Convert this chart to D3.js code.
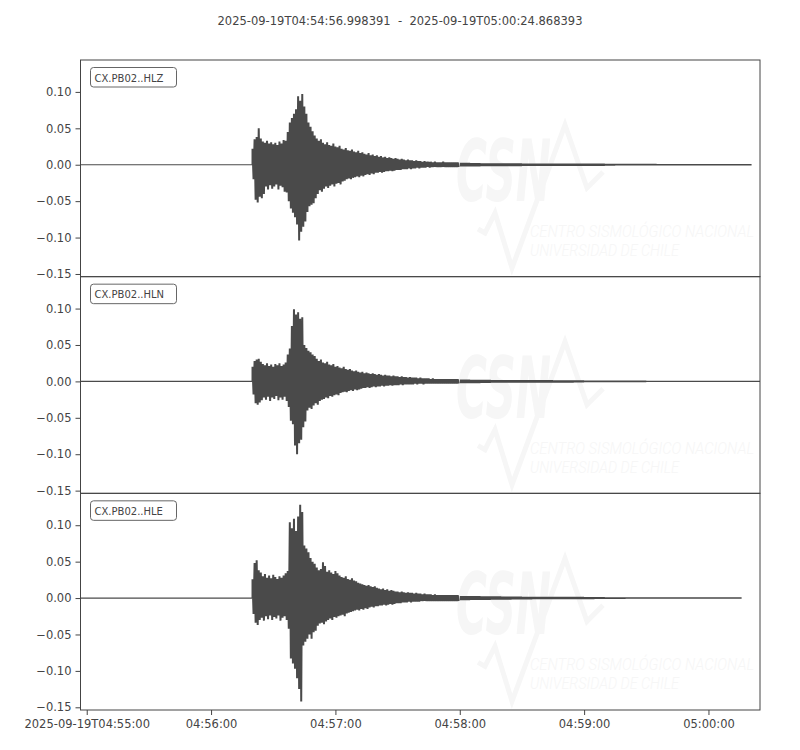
<!DOCTYPE html>
<html>
<head>
<meta charset="utf-8">
<script src="https://d3js.org/d3.v7.min.js"></script>
<style>
    body { margin: 0; background: white; }
    text { font-family: "DejaVu Sans", sans-serif; fill: #444; }
</style>
</head>
<body>
<script>
    // time window of the plot and of the event
    var startTime = new Date("2025-09-19T04:54:56.998Z");
    var endTime = new Date("2025-09-19T05:00:24.868Z");
    var onsetTime = new Date("2025-09-19T04:56:20Z");

    var channels = ["CX.PB02..HLZ", "CX.PB02..HLN", "CX.PB02..HLE"];
    var traceEnds = ["2025-09-19T05:00:20.8Z", "2025-09-19T05:00:24.868Z", "2025-09-19T05:00:16Z"];

    var yTicks = [-0.15, -0.10, -0.05, 0.00, 0.05, 0.10];
    var xTicks = ["2025-09-19T04:55:00Z", "2025-09-19T04:56:00Z", "2025-09-19T04:57:00Z",
                  "2025-09-19T04:58:00Z", "2025-09-19T04:59:00Z", "2025-09-19T05:00:00Z"];

    // envelope, 1 s bins from onset, in units of 0.001
    var hlzMax = [22,35,38,50,36,32,30,33,29,31, 28,30,27,32,29,34,33,45,58,64,
                  70,76,94,88,97,80,70,58,52,46, 40,36,33,35,30,28,31,27,26,29,
                  25,24,26,22,21,23,20,19,21,18, 17,19,16,17,15,14,16,13,14,12,
                  13,11,12,10,11,9,10,9,8,9, 8,7,8,7,6,7,6,6,5,6,
                  5,5,4,5,4,4,4,3,4,3, 3,3,4,3,3,3,3,3,3,3];
    var hlzMin = [-20,-48,-52,-44,-46,-40,-30,-34,-28,-33, -30,-27,-34,-29,-31,-37,-38,-50,-60,-66,
                  -72,-82,-104,-92,-85,-78,-65,-57,-55,-53, -46,-40,-35,-37,-33,-30,-32,-29,-27,-30,
                  -26,-25,-27,-23,-22,-20,-19,-20,-18,-17, -16,-17,-15,-16,-14,-13,-14,-12,-13,-11,
                  -11,-10,-11,-10,-9,-9,-8,-9,-8,-7, -7,-7,-6,-6,-6,-5,-6,-5,-5,-4,
                  -5,-4,-4,-4,-3,-4,-3,-3,-3,-3, -3,-3,-3,-3,-3,-3,-3,-3,-3,-3];

    var hlnMax = [20,28,30,31,27,24,22,25,21,23, 20,24,22,25,21,23,26,37,45,76,
                  99,92,95,86,88,50,46,42,40,37, 35,31,28,30,26,25,27,23,22,24,
                  20,21,19,18,20,17,16,17,15,14, 15,13,12,13,11,12,11,10,11,10,
                  9,10,9,8,9,8,8,7,8,7, 7,6,7,6,6,5,6,5,5,5,
                  4,5,4,4,4,4,3,4,3,3, 3,3,3,3,3,3,3,3,3,3];
    var hlnMin = [-18,-30,-32,-29,-26,-22,-25,-21,-27,-22, -24,-20,-26,-22,-25,-21,-27,-35,-54,-59,
                  -88,-100,-85,-80,-63,-55,-40,-36,-38,-33, -30,-32,-27,-25,-24,-22,-23,-20,-21,-19,
                  -18,-19,-16,-15,-14,-15,-13,-12,-13,-11, -12,-11,-10,-9,-9,-8,-9,-8,-7,-8,
                  -7,-7,-6,-7,-6,-6,-5,-6,-5,-5, -5,-4,-5,-4,-4,-4,-4,-4,-3,-4,
                  -3,-3,-4,-3,-3,-3,-3,-3,-3,-3, -3,-3,-3,-3,-3,-3,-3,-3,-3,-3];

    var hleMax = [26,48,52,38,35,30,33,28,31,27, 32,29,26,30,28,31,34,37,104,96,
                  109,92,112,128,118,72,68,63,55,50, 47,42,38,40,49,44,36,38,35,33,
                  37,34,31,29,28,30,26,25,27,24, 23,21,20,19,18,17,18,16,15,16,
                  14,13,12,13,11,12,10,11,10,9, 9,8,9,8,7,8,7,7,6,7,
                  6,6,5,6,5,5,5,4,5,4, 4,4,4,4,4,4,4,4,4,4];
    var hleMin = [-22,-34,-37,-30,-27,-31,-25,-29,-24,-30, -26,-28,-24,-31,-27,-25,-30,-42,-83,-90,
                  -97,-110,-125,-142,-65,-60,-56,-50,-56,-47, -45,-38,-35,-34,-36,-32,-30,-28,-30,-26,
                  -27,-25,-24,-23,-25,-21,-20,-19,-18,-17, -16,-17,-15,-16,-14,-15,-13,-12,-13,-11,
                  -11,-10,-10,-9,-10,-9,-8,-9,-8,-7, -7,-7,-6,-6,-6,-5,-6,-5,-5,-5,
                  -5,-4,-4,-4,-4,-4,-4,-4,-4,-4, -4,-4,-4,-4,-4,-4,-4,-4,-4,-4];

    // coda amplitude, 5 s bins starting 100 s after onset, units of 0.001
    var hlzTail = [2.6,2.4,2.2,2.2,2.0,2.0, 1.8,1.8,1.8,1.8,1.7,1.7, 1.6,1.6,1.5,
                   1.2,1.2,1.2,1.2,1.1, 1.1,1.1,1.1,1.0,1.0,1.0,1.0,1.0];
    var hlnTail = [2.6,2.4,2.2,2.0,2.0,1.9, 1.8,1.8,1.8,1.7,1.7,1.6, 1.3,1.2,1.2,
                   1.1,1.1,1.1,1.0,1.0, 1.0,1.0,1.0,1.0,1.0,1.0,1.0,1.0,1.0];
    var hleTail = [3.0,2.8,2.5,2.4,2.2,2.0, 1.9,1.8,1.8,1.8,1.7,1.7, 1.5,1.3,1.2,
                   1.2,1.1,1.1,1.1,1.0, 1.0,1.0,1.0,1.0,1.0,1.0,1.0,1.0];

    var maxes = [hlzMax, hlnMax, hleMax];
    var mins = [hlzMin, hlnMin, hleMin];
    var tails = [hlzTail, hlnTail, hleTail];

    var width = 800, height = 750;
    var left = 80.5, right = 760, top0 = 60, bottom = 710;
    var panelH = (bottom - top0) / 3;
    var ink = "#4a4a4a";
    var ghost = "#f6f6f6";

    var svg = d3.select("body").append("svg")
        .attr("width", width)
        .attr("height", height);

    var x = d3.scaleTime()
        .domain([startTime, endTime])
        .range([left, right]);

    function secAfter(d, s) { return new Date(d.getTime() + s * 1000); }

    // title
    svg.append("text")
        .attr("x", 400)
        .attr("y", 25)
        .attr("text-anchor", "middle")
        .style("font-size", "11.5px")
        .style("white-space", "pre")
        .text("2025-09-19T04:54:56.998391  -  2025-09-19T05:00:24.868393");

    channels.forEach(function(name, k) {
        var pTop = top0 + k * panelH, pBot = pTop + panelH;
        var y = d3.scaleLinear()
            .domain([-0.1537, 0.1438])
            .range([pBot, pTop]);

        var g = svg.append("g");
        svg.append("clipPath").attr("id", "clip" + k)
            .append("rect")
            .attr("x", left).attr("y", pTop)
            .attr("width", right - left).attr("height", panelH);

        var inner = g.append("g").attr("clip-path", "url(#clip" + k + ")");

        // faint CSN watermark
        var wm = inner.append("g").attr("transform", "translate(0," + (pTop - 60) + ")");
        wm.append("path")
            .attr("d", "M478,229 L485,233 L495,213 L512,268 L565,125 L587,188 L603,172")
            .attr("fill", "none")
            .attr("stroke", ghost)
            .attr("stroke-width", 5);
        wm.append("text")
            .attr("x", 456).attr("y", 201)
            .attr("textLength", 95).attr("lengthAdjust", "spacingAndGlyphs")
            .style("font-size", "86px").style("font-weight", "bold").style("font-style", "italic")
            .style("fill", ghost)
            .text("CSN");
        wm.append("text")
            .attr("x", 530).attr("y", 237)
            .attr("textLength", 224).attr("lengthAdjust", "spacingAndGlyphs")
            .style("font-family", "Roboto").style("font-size", "16px").style("font-style", "italic")
            .style("font-weight", 300)
            .style("fill", ghost)
            .text("CENTRO SISMOLÓGICO NACIONAL");
        wm.append("text")
            .attr("x", 530).attr("y", 256)
            .attr("textLength", 149).attr("lengthAdjust", "spacingAndGlyphs")
            .style("font-family", "Roboto").style("font-size", "16px").style("font-style", "italic")
            .style("font-weight", 300)
            .style("fill", ghost)
            .text("UNIVERSIDAD DE CHILE");

        // pre-event flat line
        inner.append("line")
            .attr("x1", x(startTime)).attr("x2", x(onsetTime))
            .attr("y1", y(0)).attr("y2", y(0))
            .attr("stroke", ink).attr("stroke-width", 1.2);

        // zigzag through the 1 s envelope
        var pts = [{t: onsetTime, v: 0}];
        maxes[k].forEach(function(v, i) {
            pts.push({t: secAfter(onsetTime, i), v: v / 1000});
            pts.push({t: secAfter(onsetTime, i + 0.5), v: mins[k][i] / 1000});
        });
        inner.append("path")
            .datum(pts)
            .attr("d", d3.line().x(function(d) { return x(d.t); }).y(function(d) { return y(d.v); }))
            .attr("fill", "none")
            .attr("stroke", ink)
            .attr("stroke-width", 2)
            .attr("stroke-linejoin", "bevel");

        // coda band
        var tEnd = new Date(traceEnds[k]);
        var tail = tails[k].map(function(a, i) {
            return {t: secAfter(onsetTime, 100 + i * 5), a: a / 1000};
        });
        tail.push({t: tEnd, a: tails[k][tails[k].length - 1] / 1000});
        inner.append("path")
            .datum(tail)
            .attr("d", d3.area().curve(d3.curveStepAfter)
                .x(function(d) { return x(d.t); })
                .y0(function(d) { return y(-d.a); })
                .y1(function(d) { return y(d.a); }))
            .attr("fill", ink);

        // frame
        g.append("rect")
            .attr("x", left).attr("y", pTop)
            .attr("width", right - left).attr("height", panelH)
            .attr("fill", "none")
            .attr("stroke", "#444")
            .attr("stroke-width", 1);

        // y axis
        var ya = g.append("g")
            .attr("transform", "translate(" + left + ",0)")
            .call(d3.axisLeft(y).tickValues(yTicks).tickSize(5).tickPadding(4)
                .tickFormat(function(d) { return d3.format(".2f")(d).replace("-", "\u2212"); }));
        ya.select(".domain").remove();
        ya.selectAll("line").attr("stroke", "#444");
        ya.selectAll("text").style("font-size", "11.5px").style("font-family", "DejaVu Sans").attr("fill", "#444");

        // channel label box
        var lab = g.append("g");
        lab.append("rect")
            .attr("x", 90.5).attr("y", pTop + 7.5)
            .attr("width", 86).attr("height", 19.5)
            .attr("rx", 3).attr("ry", 3)
            .attr("fill", "white")
            .attr("stroke", "#666")
            .attr("stroke-width", 1);
        lab.append("text")
            .attr("x", 94.5).attr("y", pTop + 21.5)
            .style("font-size", "10px")
            .text(name);
    });

    // x axis
    var xa = svg.append("g")
        .attr("transform", "translate(0," + bottom + ")")
        .call(d3.axisBottom(x).tickValues(xTicks.map(function(s) { return new Date(s); }))
            .tickSize(5).tickPadding(5)
            .tickFormat(function(d, i) {
                var s = d3.utcFormat("%H:%M:%S")(d);
                return i === 0 ? d3.utcFormat("%Y-%m-%dT")(d) + s : s;
            }));
    xa.select(".domain").remove();
    xa.selectAll("line").attr("stroke", "#444");
    xa.selectAll("text").style("font-size", "11.5px").style("font-family", "DejaVu Sans").attr("fill", "#444");
</script>
</body>
</html>
